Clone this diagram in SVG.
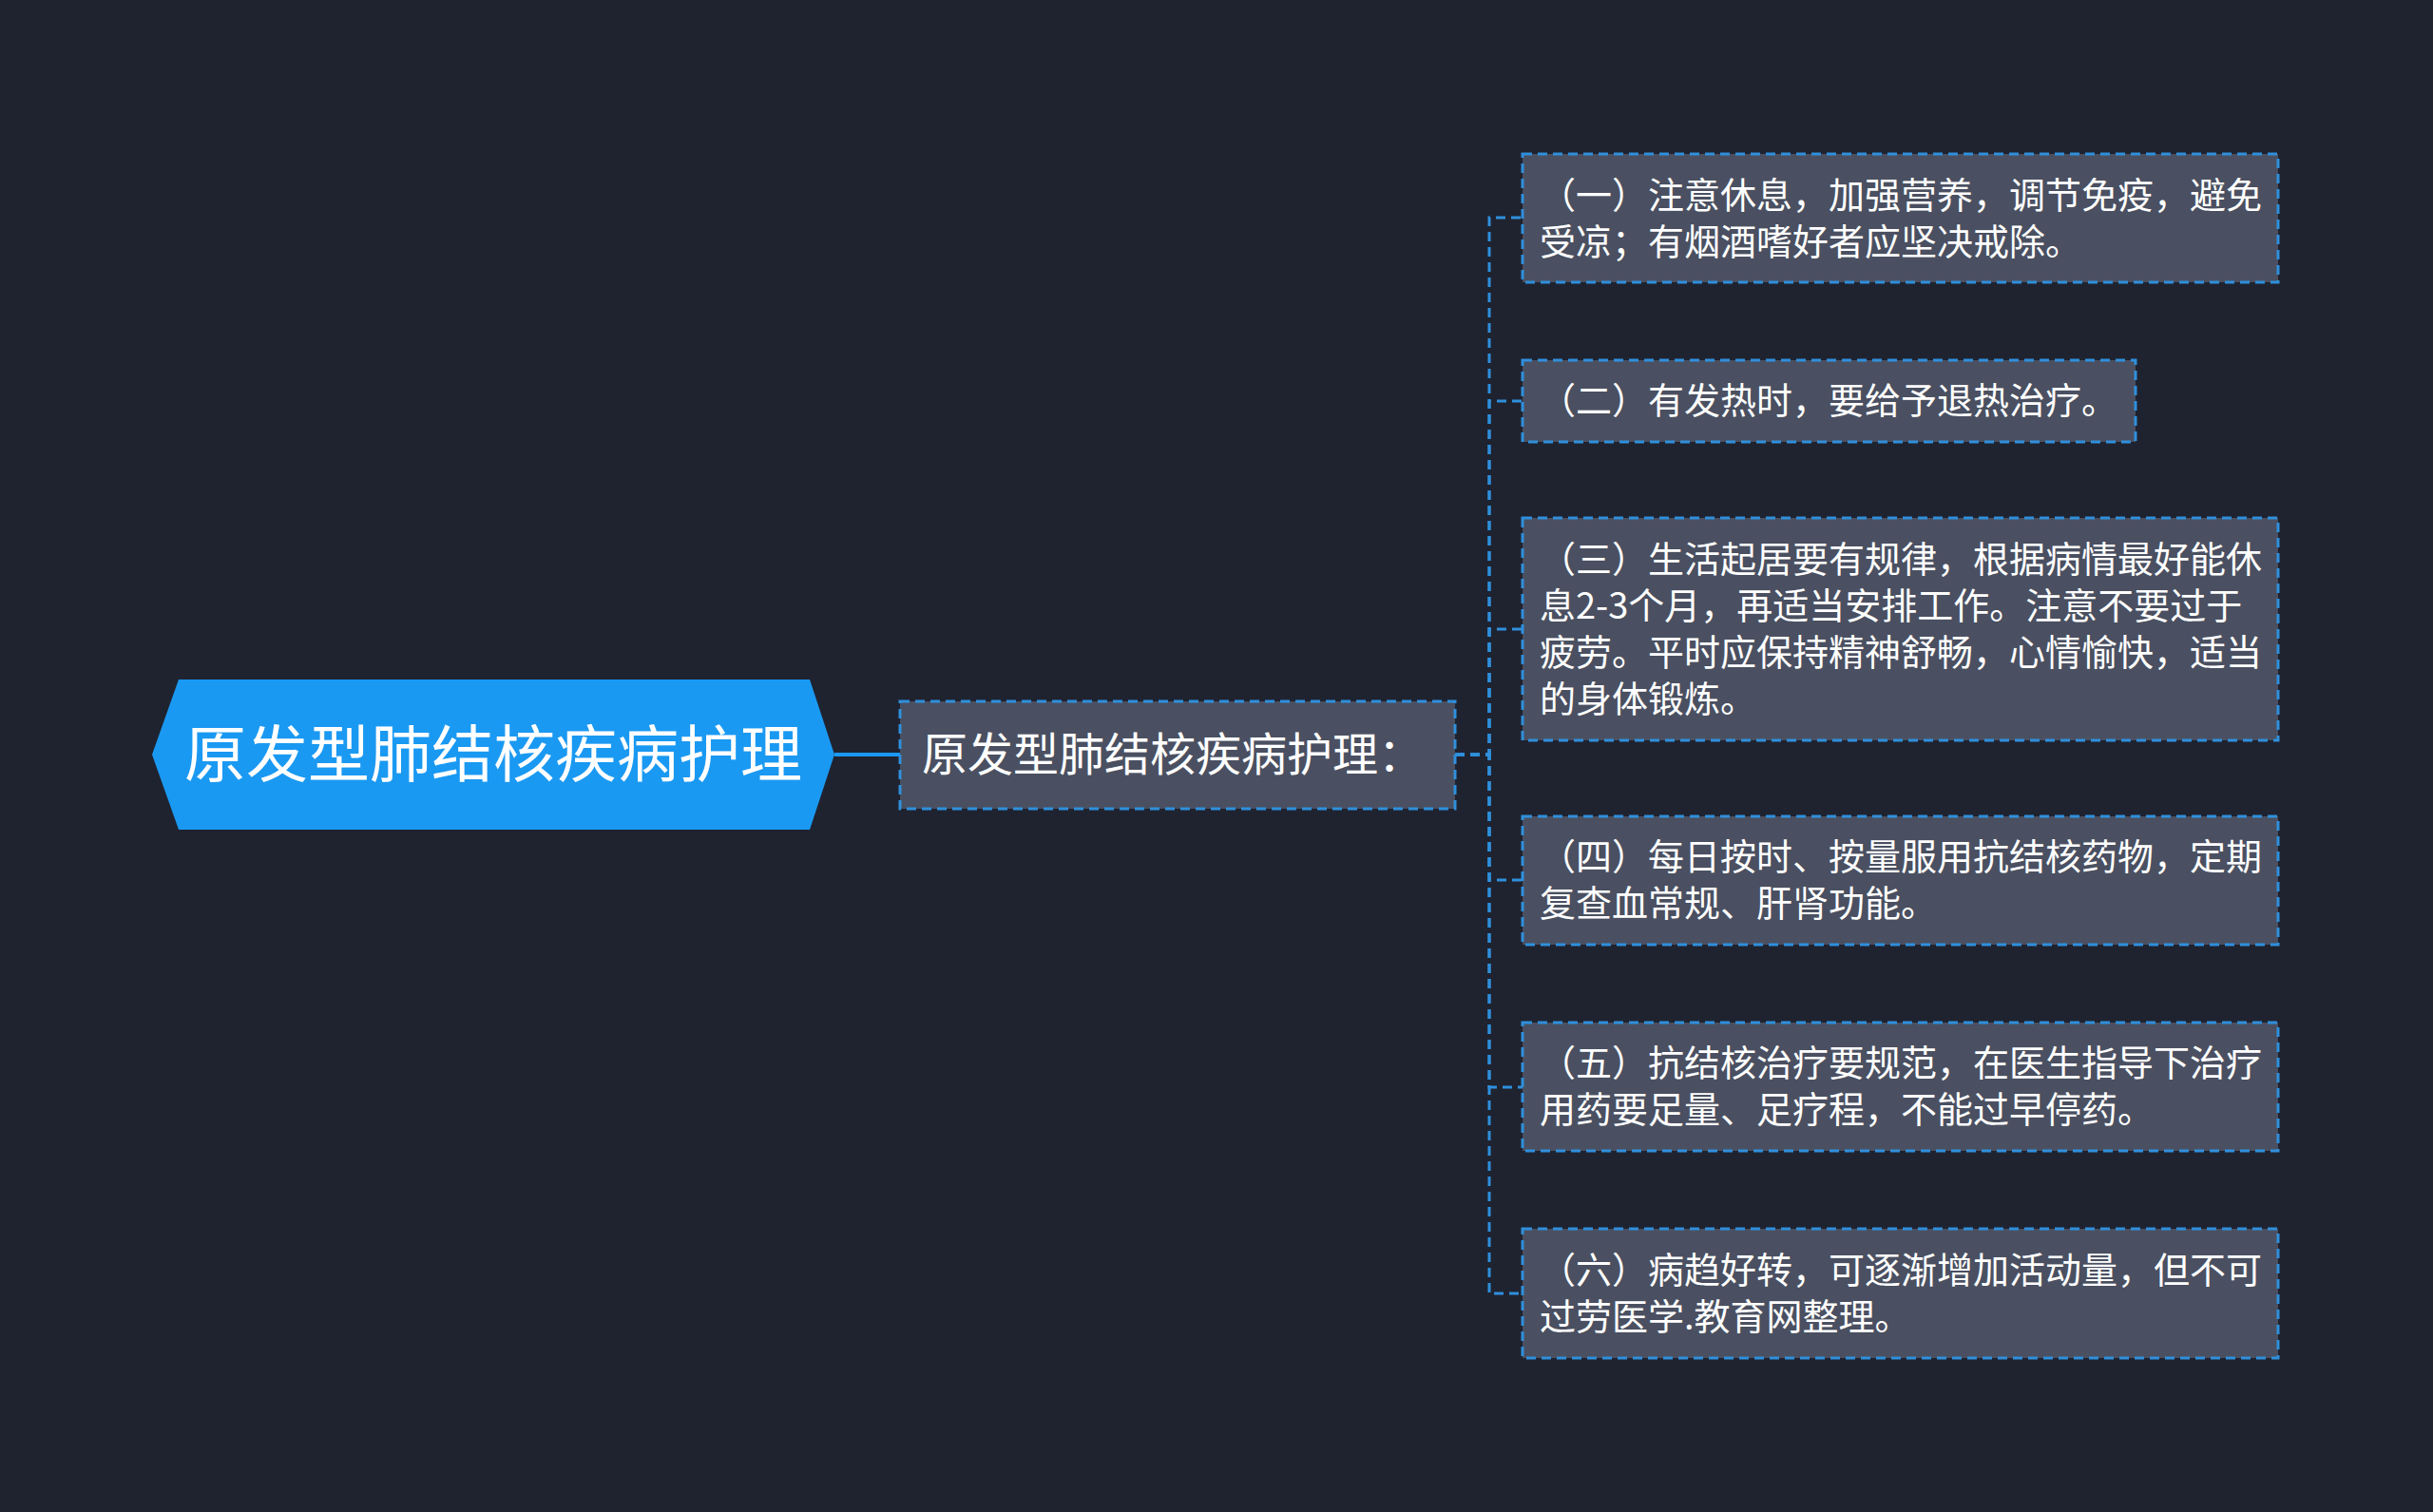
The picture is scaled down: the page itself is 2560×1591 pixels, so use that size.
<svg xmlns="http://www.w3.org/2000/svg" width="2560" height="1591" viewBox="0 0 2560 1591">
<style>
.bg{fill:#1f2330}
.root{fill:#1a99f2}
.box{fill:#4a5061;stroke:#2f8fdc;stroke-width:3;stroke-dasharray:10 6}
.conn{fill:none;stroke:#2f8fdc;stroke-width:3;stroke-dasharray:10 6}
.solid{fill:none;stroke:#1a99f2;stroke-width:4}
.t{fill:#ffffff;font-family:"Noto Sans CJK SC","Noto Sans",sans-serif}
</style>
<rect class="bg" x="0" y="0" width="2560" height="1591"/>
<g id="connectors">
<path class="solid" d="M878 794 H947"/>
<path class="conn" d="M1531 794 H1567 V229 H1602"/>
<path class="conn" d="M1531 794 H1567 V422 H1602"/>
<path class="conn" d="M1531 794 H1567 V662 H1602"/>
<path class="conn" d="M1531 794 H1567 V926 H1602"/>
<path class="conn" d="M1531 794 H1567 V1144 H1602"/>
<path class="conn" d="M1531 794 H1567 V1361 H1602"/>
</g>
<g id="root">
<polygon class="root" points="160,794 188,715 852,715 878,794 852,873 188,873"/>
<text class="t" x="519" y="817" font-size="65" text-anchor="middle">原发型肺结核疾病护理</text>
</g>
<g id="topic">
<rect class="box" x="947" y="738" width="584" height="113"/>
<text class="t" x="970" y="811" font-size="48">原发型肺结核疾病护理：</text>
</g>
<g id="c1">
<rect class="box" x="1602" y="162" width="795" height="135"/>
<text class="t" font-size="38"><tspan x="1620" y="219">（一）注意休息，加强营养，调节免疫，避免</tspan><tspan x="1620" y="268">受凉；有烟酒嗜好者应坚决戒除。</tspan></text>
</g>
<g id="c2">
<rect class="box" x="1602" y="379" width="645" height="86"/>
<text class="t" font-size="38" x="1620" y="435">（二）有发热时，要给予退热治疗。</text>
</g>
<g id="c3">
<rect class="box" x="1602" y="545" width="795" height="234"/>
<text class="t" font-size="38"><tspan x="1620" y="602">（三）生活起居要有规律，根据病情最好能休</tspan><tspan x="1620" y="651">息2-3个月，再适当安排工作。注意不要过于</tspan><tspan x="1620" y="700">疲劳。平时应保持精神舒畅，心情愉快，适当</tspan><tspan x="1620" y="749">的身体锻炼。</tspan></text>
</g>
<g id="c4">
<rect class="box" x="1602" y="859" width="795" height="135"/>
<text class="t" font-size="38"><tspan x="1620" y="915">（四）每日按时、按量服用抗结核药物，定期</tspan><tspan x="1620" y="964">复查血常规、肝肾功能。</tspan></text>
</g>
<g id="c5">
<rect class="box" x="1602" y="1076" width="795" height="135"/>
<text class="t" font-size="38"><tspan x="1620" y="1132">（五）抗结核治疗要规范，在医生指导下治疗</tspan><tspan x="1620" y="1181">用药要足量、足疗程，不能过早停药。</tspan></text>
</g>
<g id="c6">
<rect class="box" x="1602" y="1293" width="795" height="136"/>
<text class="t" font-size="38"><tspan x="1620" y="1350">（六）病趋好转，可逐渐增加活动量，但不可</tspan><tspan x="1620" y="1399">过劳医学.教育网整理。</tspan></text>
</g>
</svg>
